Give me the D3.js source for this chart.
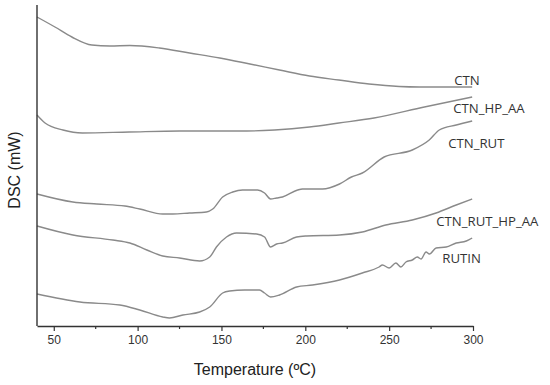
<!DOCTYPE html>
<html>
<head>
<meta charset="utf-8">
<script src="https://cdn.jsdelivr.net/npm/d3@7"></script>
<style>
  body { margin: 0; background: #fff; }
  svg { display: block; }
</style>
</head>
<body>
<div id="chart"></div>
<script>
// DSC traces (signal in arbitrary offset units, higher = up)
const ctnT   = [40, 50.7, 60.8, 72.7, 83.5, 95.4, 113, 131, 149, 167, 184.6, 202.5, 220, 238, 256, 268, 299.5];
const ctnY   = [309, 299, 289, 281, 280, 280.5, 278, 273, 268, 262, 256, 250, 246, 242, 239.5, 239, 239];

const ctnHpT = [40, 44.8, 55.5, 67, 95, 125, 165, 181.7, 202.5, 220, 241, 271, 299.5];
const ctnHpY = [211, 203, 196, 193, 194, 195, 195, 196, 199, 203, 208, 219, 229];

const ctnRutT = [40, 61.4, 75.7, 92.4, 101.3, 115, 121, 131, 141, 144.8, 150.7, 156.7, 162.6, 171.5, 175.7,
                 179.3, 182.9, 186.4, 195.4, 198.3, 210.2, 220.4, 227.5, 234, 247, 263.8, 273.9, 279.9, 290, 299.5];
const ctnRutY = [132, 124, 122, 120, 117, 112, 112, 113, 114, 117, 129, 134, 136, 136, 133,
                 127, 128, 129, 136, 137, 137, 142, 149, 153, 169, 176, 186, 196, 201, 205];

const ctnRutHpT = [40, 61.4, 85.2, 95.4, 105.5, 115, 125, 137, 143, 147, 153, 159, 171, 175.7,
                   179.3, 182.9, 186.4, 194.8, 200.7, 220.4, 234, 248, 263.8, 278, 290, 299.5];
const ctnRutHpY = [100, 91, 86, 83, 76, 70, 68, 65, 69, 79, 89, 93, 92, 89,
                   79, 82, 83, 89, 90, 91, 94, 101, 106, 113, 121, 127];

const rutinT = [40, 65.6, 89.4, 101.3, 115, 119, 127, 137, 143, 150.7, 154.9, 163.8, 172.7, 175.7, 179.3,
                184.6, 194.8, 204.3, 220.4, 234, 244, 246, 250, 254, 257, 260, 263.8, 266.8, 269, 272,
                274, 278, 284, 290, 296, 299.5];
const rutinY = [32, 24, 21, 16, 9, 8, 11, 14, 19, 33, 35, 36, 36, 33, 29,
                31, 39, 41, 46, 53, 59, 61, 58, 63, 59, 64, 66, 69, 67, 74,
                72, 78, 79, 83, 85, 88];

const seriesNames = ["CTN", "CTN_HP_AA", "CTN_RUT", "CTN_RUT_HP_AA", "RUTIN"];
const seriesT = [ctnT, ctnHpT, ctnRutT, ctnRutHpT, rutinT];
const seriesY = [ctnY, ctnHpY, ctnRutY, ctnRutHpY, rutinY];

const xMajorTicks = [50, 100, 150, 200, 250, 300];
const xMinorTicks = [75, 125, 175, 225, 275];

// label anchor points in data units (left edge, baseline)
const labelT = [288.8, 288.2, 285.2, 278.1, 281.7];
const labelY = [241, 213, 178, 100, 63];

const width = 550, height = 385;
const margin = { top: 5, right: 77, bottom: 59, left: 37 };

const svg = d3.select("#chart").append("svg")
  .attr("width", width)
  .attr("height", height);

const x = d3.scaleLinear()
  .domain([40, 300])
  .range([margin.left, width - margin.right]);

const y = d3.scaleLinear()
  .domain([0, 321])
  .range([height - margin.bottom, margin.top]);

// curves
const line = d3.line()
  .x(d => x(d[0]))
  .y(d => y(d[1]))
  .curve(d3.curveMonotoneX);

seriesNames.forEach((name, i) => {
  const pts = seriesT[i].map((t, j) => [t, seriesY[i][j]]);
  svg.append("path")
    .datum(pts)
    .attr("fill", "none")
    .attr("stroke", "#8a8a8a")
    .attr("stroke-width", 1.4)
    .attr("d", line);

  svg.append("text")
    .attr("x", x(labelT[i]))
    .attr("y", y(labelY[i]))
    .attr("font-family", "'Open Sans', sans-serif")
    .attr("font-size", 13.2)
    .attr("fill", "#333")
    .text(name);
});

// x axis
const xAxisG = svg.append("g")
  .attr("transform", `translate(0,${height - margin.bottom})`);

xAxisG.call(d3.axisBottom(x).tickValues(xMajorTicks).tickSize(5).tickSizeOuter(0).tickPadding(4))
  .call(g => g.select(".domain").attr("stroke", "#333").attr("stroke-width", 1.4))
  .call(g => g.selectAll(".tick line").attr("stroke", "#333").attr("stroke-width", 1.2))
  .call(g => g.selectAll(".tick text")
    .attr("font-family", "'Liberation Sans', Arial, sans-serif")
    .attr("font-size", 12)
    .attr("fill", "#333"));

xAxisG.selectAll(".minor")
  .data(xMinorTicks)
  .enter()
  .append("line")
  .attr("class", "minor")
  .attr("x1", d => x(d))
  .attr("x2", d => x(d))
  .attr("y1", 0)
  .attr("y2", 3)
  .attr("stroke", "#333")
  .attr("stroke-width", 1.2);

// y axis (no ticks)
svg.append("line")
  .attr("x1", margin.left)
  .attr("x2", margin.left)
  .attr("y1", margin.top)
  .attr("y2", height - margin.bottom)
  .attr("stroke", "#333")
  .attr("stroke-width", 1.4);

// axis titles
svg.append("text")
  .attr("x", 255)
  .attr("y", 375)
  .attr("text-anchor", "middle")
  .attr("font-family", "'Liberation Sans', Arial, sans-serif")
  .attr("font-size", 16)
  .attr("fill", "#222")
  .text("Temperature (ºC)");

svg.append("text")
  .attr("transform", "translate(20,170) rotate(-90)")
  .attr("text-anchor", "middle")
  .attr("font-family", "'Liberation Sans', Arial, sans-serif")
  .attr("font-size", 16)
  .attr("fill", "#222")
  .text("DSC (mW)");
</script>
</body>
</html>
